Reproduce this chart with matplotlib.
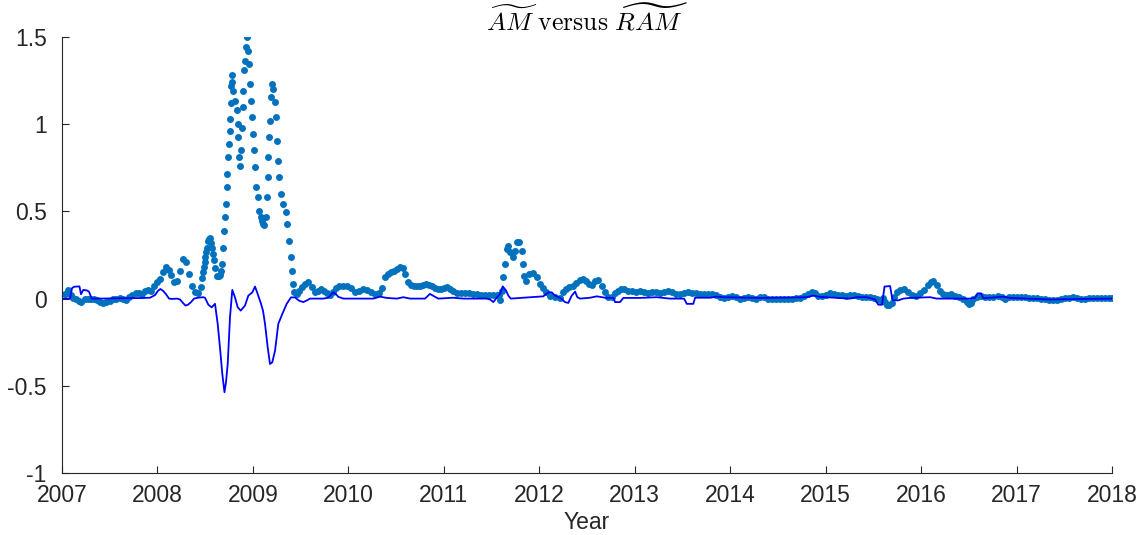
import matplotlib
matplotlib.use("Agg")
import matplotlib.pyplot as plt

plt.rcParams['mathtext.fontset'] = 'cm'
plt.rcParams['font.family'] = ['Liberation Sans', 'DejaVu Sans']

# ---- AM-tilde series (dotted), decimal years and values ----
am_years = [
    2007.031, 2007.063, 2007.094, 2007.115, 2007.147, 2007.173, 2007.204, 2007.241, 2007.272, 2007.304,
    2007.335, 2007.367, 2007.398, 2007.430, 2007.461, 2007.503, 2007.534, 2007.566, 2007.608, 2007.639,
    2007.671, 2007.702, 2007.733, 2007.775, 2007.807, 2007.838, 2007.870, 2007.901, 2007.932, 2007.964,
    2007.995, 2008.027, 2008.058, 2008.090, 2008.116, 2008.142, 2008.173, 2008.205, 2008.236, 2008.268,
    2008.299, 2008.331, 2008.362, 2008.393, 2008.425, 2008.451, 2008.467, 2008.478, 2008.488, 2008.496,
    2008.503, 2008.511, 2008.519, 2008.530, 2008.540, 2008.551, 2008.562, 2008.572, 2008.584, 2008.596,
    2008.608, 2008.621, 2008.640, 2008.655, 2008.667, 2008.679, 2008.690, 2008.700, 2008.708, 2008.715,
    2008.725, 2008.732, 2008.742, 2008.753, 2008.758, 2008.763, 2008.767, 2008.771, 2008.778, 2008.786,
    2008.795, 2008.812, 2008.830, 2008.841, 2008.847, 2008.854, 2008.860, 2008.875, 2008.883, 2008.893,
    2008.899, 2008.910, 2008.917, 2008.928, 2008.941, 2008.952, 2008.962, 2008.970, 2008.980, 2008.994,
    2009.004, 2009.015, 2009.022, 2009.032, 2009.050, 2009.067, 2009.080, 2009.092, 2009.104, 2009.116,
    2009.134, 2009.145, 2009.155, 2009.161, 2009.169, 2009.176, 2009.187, 2009.197, 2009.214, 2009.232,
    2009.242, 2009.253, 2009.260, 2009.273, 2009.294, 2009.318, 2009.344, 2009.360, 2009.378, 2009.396,
    2009.407, 2009.417, 2009.431, 2009.459, 2009.483, 2009.511, 2009.546, 2009.580, 2009.616, 2009.651,
    2009.682, 2009.713, 2009.745, 2009.776, 2009.808, 2009.839, 2009.871, 2009.902, 2009.944, 2009.986,
    2010.028, 2010.070, 2010.112, 2010.153, 2010.195, 2010.237, 2010.279, 2010.321, 2010.353, 2010.384,
    2010.415, 2010.447, 2010.478, 2010.510, 2010.541, 2010.573, 2010.594, 2010.625, 2010.656, 2010.688,
    2010.719, 2010.751, 2010.782, 2010.814, 2010.845, 2010.876, 2010.908, 2010.939, 2010.971, 2011.002,
    2011.034, 2011.065, 2011.097, 2011.139, 2011.180, 2011.222, 2011.264, 2011.306, 2011.348, 2011.390,
    2011.432, 2011.474, 2011.516, 2011.557, 2011.578, 2011.589, 2011.607, 2011.624, 2011.641, 2011.659,
    2011.676, 2011.694, 2011.722, 2011.746, 2011.770, 2011.791, 2011.816, 2011.827, 2011.840, 2011.861,
    2011.896, 2011.938, 2011.973, 2012.008, 2012.039, 2012.071, 2012.113, 2012.165, 2012.217, 2012.252,
    2012.280, 2012.312, 2012.354, 2012.385, 2012.427, 2012.462, 2012.490, 2012.521, 2012.552, 2012.584,
    2012.619, 2012.654, 2012.689, 2012.724, 2012.759, 2012.794, 2012.825, 2012.857, 2012.888, 2012.930,
    2012.972, 2013.014, 2013.055, 2013.097, 2013.139, 2013.181, 2013.223, 2013.264, 2013.306, 2013.348,
    2013.390, 2013.432, 2013.474, 2013.516, 2013.557, 2013.599, 2013.641, 2013.683, 2013.725, 2013.767,
    2013.809, 2013.851, 2013.892, 2013.934, 2013.976, 2014.018, 2014.060, 2014.102, 2014.144, 2014.186,
    2014.228, 2014.269, 2014.311, 2014.353, 2014.395, 2014.437, 2014.480, 2014.521, 2014.563, 2014.605,
    2014.647, 2014.689, 2014.731, 2014.773, 2014.815, 2014.857, 2014.889, 2014.920, 2014.962, 2015.004,
    2015.046, 2015.088, 2015.130, 2015.172, 2015.213, 2015.255, 2015.298, 2015.339, 2015.381, 2015.423,
    2015.465, 2015.507, 2015.538, 2015.570, 2015.601, 2015.622, 2015.643, 2015.664, 2015.692, 2015.716,
    2015.745, 2015.779, 2015.821, 2015.863, 2015.905, 2015.947, 2015.989, 2016.031, 2016.073, 2016.104,
    2016.128, 2016.164, 2016.199, 2016.230, 2016.272, 2016.314, 2016.356, 2016.398, 2016.440, 2016.478,
    2016.502, 2016.523, 2016.548, 2016.586, 2016.628, 2016.670, 2016.712, 2016.754, 2016.806, 2016.848,
    2016.880, 2016.921, 2016.963, 2017.005, 2017.047, 2017.089, 2017.131, 2017.173, 2017.215, 2017.257,
    2017.299, 2017.341, 2017.382, 2017.424, 2017.466, 2017.508, 2017.550, 2017.592, 2017.634, 2017.676,
    2017.718, 2017.760, 2017.802, 2017.844, 2017.886, 2017.927, 2017.969, 2018.000,
]
am_values = [
    0.027, 0.05, 0.02, 0.006, -0.005, -0.012, -0.02, -0.005, 0.0, 0.0,
    -0.005, -0.01, -0.018, -0.025, -0.022, -0.015, -0.005, 0.0, 0.006, 0.0,
    -0.01, 0.01, 0.023, 0.033, 0.03, 0.025, 0.045, 0.05, 0.045, 0.07,
    0.093, 0.11, 0.15, 0.18, 0.165, 0.135, 0.095, 0.1, 0.16, 0.225,
    0.21, 0.14, 0.07, 0.035, 0.03, 0.065, 0.12, 0.15, 0.18, 0.21,
    0.24, 0.265, 0.29, 0.33, 0.34, 0.345, 0.32, 0.29, 0.255, 0.22,
    0.175, 0.13, 0.13, 0.135, 0.16, 0.2, 0.29, 0.39, 0.47, 0.54,
    0.64, 0.715, 0.81, 0.887, 0.963, 1.03, 1.12, 1.22, 1.28, 1.24,
    1.19, 1.135, 1.08, 1.0, 0.925, 0.81, 0.76, 0.85, 0.98, 1.1,
    1.19, 1.31, 1.365, 1.44, 1.50, 1.42, 1.345, 1.23, 1.135, 1.04,
    0.944, 0.85, 0.753, 0.64, 0.58, 0.505, 0.47, 0.447, 0.43, 0.42,
    0.466, 0.58, 0.695, 0.81, 0.925, 1.02, 1.155, 1.23, 1.20, 1.125,
    1.04, 0.906, 0.79, 0.695, 0.60, 0.543, 0.495, 0.43, 0.333, 0.237,
    0.16, 0.084, 0.036, 0.027, 0.045, 0.065, 0.085, 0.093, 0.065, 0.036,
    0.045, 0.055, 0.045, 0.03, 0.02, 0.036, 0.06, 0.075, 0.075, 0.07,
    0.06, 0.036, 0.045, 0.055, 0.05, 0.04, 0.025, 0.03, 0.06, 0.122,
    0.14, 0.15, 0.16, 0.17, 0.183, 0.175, 0.14, 0.093, 0.08, 0.075,
    0.075, 0.075, 0.08, 0.084, 0.078, 0.07, 0.06, 0.055, 0.055, 0.058,
    0.065, 0.055, 0.042, 0.032, 0.03, 0.03, 0.03, 0.028, 0.025, 0.018,
    0.02, 0.022, 0.02, 0.02, 0.02, -0.007, 0.045, 0.122, 0.2, 0.285,
    0.304, 0.265, 0.237, 0.275, 0.323, 0.323, 0.275, 0.2, 0.132, 0.103,
    0.14, 0.145, 0.122, 0.084, 0.06, 0.04, 0.017, 0.008, 0.005, 0.036,
    0.055, 0.068, 0.075, 0.09, 0.105, 0.113, 0.1, 0.085, 0.08, 0.103,
    0.108, 0.075, 0.036, 0.011, 0.011, 0.03, 0.045, 0.055, 0.057, 0.045,
    0.045, 0.04, 0.042, 0.04, 0.03, 0.036, 0.035, 0.03, 0.038, 0.046,
    0.035, 0.028, 0.027, 0.03, 0.036, 0.033, 0.03, 0.028, 0.027, 0.027,
    0.025, 0.02, 0.012, 0.005, 0.01, 0.015, 0.008, -0.002, 0.005, 0.011,
    0.005, 0.0, 0.008, 0.008, 0.0, 0.0, 0.0, 0.0, -0.002, 0.0,
    0.0, 0.003, 0.005, 0.015, 0.027, 0.035, 0.03, 0.017, 0.017, 0.022,
    0.03, 0.026, 0.022, 0.018, 0.017, 0.018, 0.02, 0.015, 0.011, 0.01,
    0.008, 0.002, -0.005, -0.008, 0.005, -0.021, -0.035, -0.035, -0.027, 0.008,
    0.036, 0.05, 0.055, 0.04, 0.022, 0.017, 0.03, 0.05, 0.08, 0.095,
    0.103, 0.08, 0.045, 0.025, 0.018, 0.025, 0.015, 0.008, 0.0, -0.02,
    -0.03, -0.025, 0.0, 0.012, 0.015, 0.01, 0.008, 0.012, 0.017, 0.008,
    -0.003, 0.008, 0.011, 0.008, 0.01, 0.011, 0.006, 0.004, 0.002, 0.0,
    -0.002, -0.006, -0.01, -0.006, -0.002, 0.002, 0.006, 0.008, 0.002, -0.005,
    -0.002, 0.002, 0.004, 0.004, 0.004, 0.003, 0.002, 0.004,
]

# ---- RAM-tilde series (solid blue line) ----
ram_years = [
    2007.000, 2007.042, 2007.084, 2007.105, 2007.126, 2007.183, 2007.199, 2007.223, 2007.259, 2007.283,
    2007.311, 2007.398, 2007.608, 2007.817, 2007.922, 2007.974, 2008.006, 2008.032, 2008.058, 2008.090,
    2008.121, 2008.152, 2008.205, 2008.236, 2008.268, 2008.294, 2008.320, 2008.352, 2008.383, 2008.425,
    2008.477, 2008.498, 2008.533, 2008.568, 2008.603, 2008.631, 2008.655, 2008.679, 2008.702, 2008.718,
    2008.736, 2008.760, 2008.784, 2008.812, 2008.841, 2008.872, 2008.917, 2008.952, 2008.994, 2009.022,
    2009.050, 2009.085, 2009.106, 2009.127, 2009.155, 2009.179, 2009.203, 2009.232, 2009.266, 2009.308,
    2009.354, 2009.399, 2009.441, 2009.483, 2009.528, 2009.567, 2009.598, 2009.738, 2009.790, 2009.842,
    2009.871, 2009.895, 2009.947, 2010.261, 2010.332, 2010.402, 2010.507, 2010.576, 2010.646, 2010.803,
    2010.855, 2010.908, 2010.942, 2011.099, 2011.204, 2011.449, 2011.484, 2011.519, 2011.554, 2011.589,
    2011.617, 2011.652, 2011.676, 2011.701, 2011.833, 2012.042, 2012.095, 2012.130, 2012.165, 2012.217,
    2012.270, 2012.304, 2012.340, 2012.375, 2012.399, 2012.427, 2012.532, 2012.602, 2012.689, 2012.776,
    2012.794, 2012.846, 2012.881, 2013.056, 2013.230, 2013.370, 2013.517, 2013.545, 2013.614, 2013.632,
    2013.789, 2013.859, 2013.928, 2014.313, 2014.627, 2014.802, 2014.871, 2014.941, 2015.256, 2015.326,
    2015.431, 2015.518, 2015.552, 2015.591, 2015.617, 2015.675, 2015.701, 2015.762, 2015.814, 2015.884,
    2016.094, 2016.164, 2016.513, 2016.565, 2016.591, 2016.628, 2016.652, 2016.862, 2016.932, 2017.351,
    2017.665, 2018.000,
]
ram_values = [
    0.0, 0.0, 0.0, 0.06, 0.068, 0.07, 0.025, 0.05, 0.047, 0.04,
    0.0, 0.0, 0.002, 0.003, 0.005, 0.02, 0.045, 0.055, 0.045, 0.025,
    0.0, -0.002, 0.0, -0.005, -0.025, -0.04, -0.035, -0.02, 0.0, 0.005,
    0.008, 0.005, -0.035, -0.05, -0.03, -0.145, -0.28, -0.43, -0.537, -0.48,
    -0.375, -0.107, 0.05, 0.007, -0.05, -0.069, -0.04, 0.017, 0.036, 0.069,
    0.027, -0.03, -0.07, -0.145, -0.28, -0.375, -0.365, -0.298, -0.145, -0.088,
    -0.03, 0.007, 0.007, -0.012, -0.02, -0.01, 0.0, 0.0, 0.005, 0.036,
    0.025, 0.01, 0.0, 0.0, 0.011, 0.004, 0.0, 0.008, 0.0, 0.0,
    0.027, 0.01, 0.0, 0.005, 0.0, 0.0, -0.005, -0.02, 0.005, 0.027,
    0.07, 0.046, 0.017, 0.0, 0.005, 0.013, 0.036, 0.036, 0.017, 0.005,
    -0.02, -0.025, 0.017, 0.04, 0.008, 0.0, 0.005, 0.013, 0.005, 0.004,
    -0.02, -0.02, 0.004, 0.004, 0.008, 0.0, 0.0, -0.03, -0.03, 0.005,
    0.005, 0.011, 0.008, 0.004, 0.006, 0.008, 0.017, 0.01, 0.0, 0.008,
    0.008, -0.005, -0.035, -0.035, 0.069, 0.072, -0.01, -0.01, 0.0, 0.004,
    0.008, 0.0, 0.0, 0.004, 0.03, 0.03, 0.002, 0.011, 0.004, -0.005,
    -0.002, 0.0,
]

x_ticks = list(range(2007, 2019))
y_ticks = [-1, -0.5, 0, 0.5, 1, 1.5]
y_tick_labels = ['-1', '-0.5', '0', '0.5', '1', '1.5']
title_text = r'$\widetilde{AM}\ \mathrm{versus}\ \widetilde{RAM}$'
x_label = 'Year'

fig = plt.figure(figsize=(11.46, 5.35), dpi=100)
ax = fig.add_axes([62 / 1146, 1 - 473 / 535, 1050 / 1146, 436 / 535])

ax.plot(am_years, am_values, linestyle='none', marker='o', markersize=5.0,
        markeredgewidth=0, color='#0072BD', zorder=2)
ax.plot(ram_years, ram_values, color='#0000FF', linewidth=1.3, zorder=3)

ax.set_xlim(2007, 2018)
ax.set_ylim(-1, 1.5)
ax.set_xticks(x_ticks)
ax.set_xticklabels([str(t) for t in x_ticks])
ax.set_yticks(y_ticks)
ax.set_yticklabels(y_tick_labels)

for side in ('top', 'right'):
    ax.spines[side].set_visible(False)
for side in ('left', 'bottom'):
    ax.spines[side].set_color('#262626')
    ax.spines[side].set_linewidth(0.8)

ax.tick_params(direction='in', length=5, width=0.8, colors='#262626',
               labelsize=16.5, labelcolor='#262626')
ax.tick_params(axis='x', pad=8)
ax.tick_params(axis='y', pad=11)
ax.set_xlabel(x_label, fontsize=16.5, color='#262626', labelpad=3)
ax.set_title(title_text, fontsize=18.5, color='black', pad=5)

fig.savefig('out.png', dpi=100)
